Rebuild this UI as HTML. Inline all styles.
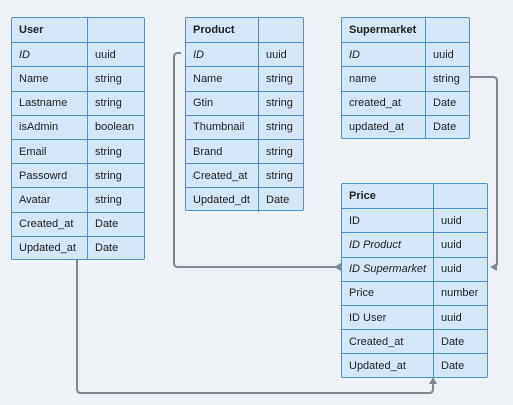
<!DOCTYPE html>
<html><head><style>
body{margin:0;width:513px;height:405px;background:#eef2f7;position:relative;overflow:hidden;font-family:"Liberation Sans",sans-serif;font-size:11px;color:#222}
.t{position:absolute;background:#d5e6f7;border:1.5px solid #4a90d9;box-sizing:border-box;border-radius:2px}
.r{display:flex;height:24.2px;box-sizing:border-box;border-top:1.5px solid #4a90d9;align-items:center}
.r:first-child{border-top:none}
.r span{display:flex;align-items:center;height:100%;padding-left:7px;box-sizing:border-box;white-space:nowrap;overflow:hidden}
.r span:first-child{border-right:1.5px solid #4a90d9}
.h{font-weight:bold}
i{font-style:italic}
svg{position:absolute;left:0;top:0}
</style></head><body>
<svg width="513" height="405">
<g fill="none" stroke="#7d8894" stroke-width="2">
<path d="M181 53 H178 Q174 53 174 57 V263 Q174 267 178 267 H336"/>
<path d="M470 77 H493 Q497 77 497 81 V263 Q497 267 493 267 H494"/>
<path d="M77 259 V389 Q77 393 81 393 H429 Q433 393 433 389 V382"/>
</g>
<g fill="#7d8894">
<path d="M334 267 L341 263 L341 271 Z"/>
<path d="M490 267 L497 263 L497 271 Z"/>
<path d="M433 377 L429 384 L437 384 Z"/>
</g>
</svg>
<div class="t" style="left:11px;top:17px;width:134px;height:243px">
<div class="r"><span class="h" style="width:76px">User</span><span></span></div>
<div class="r"><span style="width:76px"><i>ID</i></span><span>uuid</span></div>
<div class="r"><span style="width:76px">Name</span><span>string</span></div>
<div class="r"><span style="width:76px">Lastname</span><span>string</span></div>
<div class="r"><span style="width:76px">isAdmin</span><span>boolean</span></div>
<div class="r"><span style="width:76px">Email</span><span>string</span></div>
<div class="r"><span style="width:76px">Passowrd</span><span>string</span></div>
<div class="r"><span style="width:76px">Avatar</span><span>string</span></div>
<div class="r"><span style="width:76px">Created_at</span><span>Date</span></div>
<div class="r"><span style="width:76px">Updated_at</span><span>Date</span></div>
</div>
<div class="t" style="left:185px;top:17px;width:119px;height:194px">
<div class="r"><span class="h" style="width:73px">Product</span><span></span></div>
<div class="r"><span style="width:73px"><i>ID</i></span><span>uuid</span></div>
<div class="r"><span style="width:73px">Name</span><span>string</span></div>
<div class="r"><span style="width:73px">Gtin</span><span>string</span></div>
<div class="r"><span style="width:73px">Thumbnail</span><span>string</span></div>
<div class="r"><span style="width:73px">Brand</span><span>string</span></div>
<div class="r"><span style="width:73px">Created_at</span><span>string</span></div>
<div class="r"><span style="width:73px">Updated_dt</span><span>Date</span></div>
</div>
<div class="t" style="left:341px;top:17px;width:129px;height:122px">
<div class="r"><span class="h" style="width:84px">Supermarket</span><span></span></div>
<div class="r"><span style="width:84px"><i>ID</i></span><span>uuid</span></div>
<div class="r"><span style="width:84px">name</span><span>string</span></div>
<div class="r"><span style="width:84px">created_at</span><span>Date</span></div>
<div class="r"><span style="width:84px">updated_at</span><span>Date</span></div>
</div>
<div class="t" style="left:341px;top:183px;width:147px;height:195px">
<div class="r"><span class="h" style="width:92px">Price</span><span></span></div>
<div class="r"><span style="width:92px">ID</span><span>uuid</span></div>
<div class="r"><span style="width:92px"><i>ID Product</i></span><span>uuid</span></div>
<div class="r"><span style="width:92px"><i>ID Supermarket</i></span><span>uuid</span></div>
<div class="r"><span style="width:92px">Price</span><span>number</span></div>
<div class="r"><span style="width:92px">ID User</span><span>uuid</span></div>
<div class="r"><span style="width:92px">Created_at</span><span>Date</span></div>
<div class="r"><span style="width:92px">Updated_at</span><span>Date</span></div>
</div>
</body></html>
